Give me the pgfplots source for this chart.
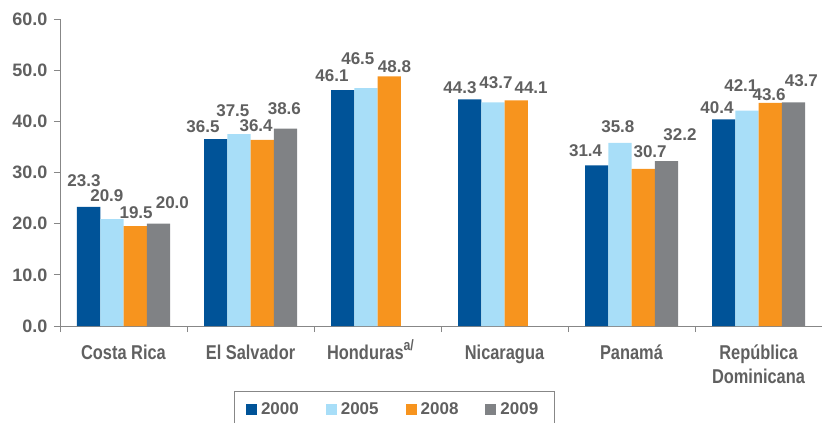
\documentclass[border=0pt]{standalone}
\usepackage{pgfplots}
\usepackage{pgfplotstable}
\pgfplotsset{compat=1.18}
\usepackage{fontspec}
\setmainfont{Liberation Sans}
\newfontfamily\condfont{Liberation Sans}[FakeStretch=0.82]

\definecolor{c2000}{RGB}{0,83,152}
\definecolor{c2005}{RGB}{168,222,248}
\definecolor{c2008}{RGB}{247,148,30}
\definecolor{c2009}{RGB}{128,130,133}
\definecolor{txt}{RGB}{96,96,96}
\definecolor{axisgray}{RGB}{135,135,135}

% x = country index, y = value, dx/dy = label offset from bar top (px)
\pgfplotstableread{
x y dx dy
0 23.3 -4.6 25.8
1 36.5 -12.6 12.7
2 46.1 -10.6 14
3 44.3 -9.6 11.8
4 31.4 -11 14.3
5 40.4 -6.6 11.8
}\tA
\pgfplotstableread{
x y dx dy
0 20.9 -5 23
1 37.5 -6 23
2 46.5 -8 29.6
3 43.7 3.1 19.9
4 35.8 -2 16.3
5 42.1 -6 24.6
}\tB
\pgfplotstableread{
x y dx dy
0 19.5 1 14
1 36.4 -6 13.8
2 48.8 5.4 9.3
3 44.1 15 12.4
4 30.7 7 17.4
5 43.6 -1 8
}\tC
\pgfplotstableread{
x y dx dy
0 20.0 14 20.7
1 38.6 -1 20
4 32.2 13.6 27
5 43.7 8 21.4
}\tD

\begin{document}
\begin{tikzpicture}
\begin{axis}[
    at={(60pt,-326pt)}, anchor=south west,
    scale only axis, width=762pt, height=307pt,
    xmin=-0.5, xmax=5.5, ymin=0, ymax=60,
    ybar=0pt, bar width=23.25pt,
    clip=false,
    axis x line*=bottom, axis y line*=left,
    axis line style={draw=axisgray, line width=1pt},
    tick align=outside,
    tick style={draw=axisgray, line width=1pt},
    major tick length=6pt, minor tick length=6pt,
    xtick={0,...,5},
    minor xtick={-0.5,0.5,...,5.5},
    major x tick style={draw=none},
    xticklabels={Costa Rica, El Salvador, {Honduras\smash{\raisebox{0.45em}{\fontsize{15}{15}\selectfont a/}}\hspace*{14pt}}, Nicaragua, Panamá, {República\\Dominicana}},
    xticklabel style={font=\condfont\bfseries\fontsize{20}{24}\selectfont, text=txt, align=center, anchor=north, inner sep=0pt, yshift=-13pt},
    ytick={0,10,...,60},
    yticklabel style={font=\bfseries\fontsize{18}{20}\selectfont, text=txt, xshift=-3pt, /pgf/number format/.cd, fixed, fixed zerofill, precision=1},
    /pgf/number format/assume math mode=true,
    visualization depends on={\thisrow{dx} \as \labdx},
    visualization depends on={\thisrow{dy} \as \labdy},
    nodes near coords={\pgfmathprintnumber[fixed,fixed zerofill,precision=1]{\pgfplotspointmeta}},
    every node near coord/.append style={font=\bfseries\fontsize{17}{19}\selectfont, text=txt, anchor=center, inner sep=0pt, xshift=\labdx pt, yshift=\labdy pt},
    legend columns=4,
    legend image code/.code={\fill[#1] (0pt,-5.5pt) rectangle (11pt,5.5pt);},
    legend style={at={(0.2277,-0.2117)}, anchor=north west, draw=axisgray, line width=1pt,
        font=\bfseries\fontsize{17}{19}\selectfont, text=txt,
        inner xsep=12pt, inner ysep=9pt,
        nodes={inner xsep=4pt},
        /tikz/every even column/.append style={column sep=23pt}},
]
\addplot[fill=c2000, draw=none] table[x=x, y=y] {\tA};
\addplot[fill=c2005, draw=none] table[x=x, y=y] {\tB};
\addplot[fill=c2008, draw=none] table[x=x, y=y] {\tC};
\addplot[fill=c2009, draw=none] table[x=x, y=y] {\tD};
\legend{2000, 2005, 2008, 2009}
\end{axis}
\pgfresetboundingbox
\path[use as bounding box] (0pt,0pt) rectangle (822pt,-423pt);
\end{tikzpicture}
\end{document}
